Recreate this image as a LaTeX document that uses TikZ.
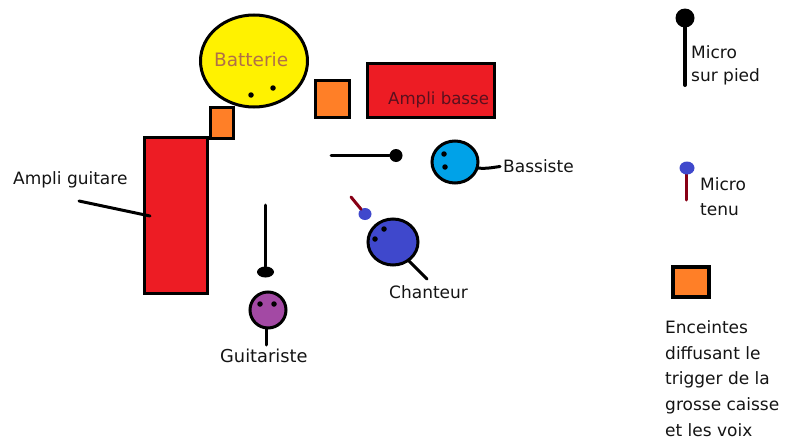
\documentclass[tikz,border=0pt]{standalone}
\usepackage{fontspec}
\setmainfont{DejaVu Sans}
\usetikzlibrary{shapes.geometric}
\definecolor{pred}{HTML}{ED1C24}
\definecolor{pyellow}{HTML}{FFF200}
\definecolor{porange}{HTML}{FF7F27}
\definecolor{ppurple}{HTML}{A349A4}
\definecolor{pcyan}{HTML}{00A2E8}
\definecolor{pindigo}{HTML}{3F48CC}
\definecolor{pdark}{HTML}{880015}
\definecolor{ptext}{HTML}{141414}
\tikzset{
  x=1pt,y=-1pt,
  boxed/.style={draw=black,line width=3pt,rectangle,inner sep=0pt,outer sep=0pt,anchor=north west},
  ampbox/.style={boxed,fill=pred},
  spk/.style={boxed,fill=porange},
  head/.style={draw=black,line width=3pt,ellipse,inner sep=0pt,outer sep=0pt},
  eye/.style={circle,fill=black,inner sep=0pt,minimum size=5.5pt},
  micball/.style={fill=black,ellipse,inner sep=0pt,outer sep=0pt},
  heldball/.style={fill=pindigo,ellipse,inner sep=0pt,outer sep=0pt},
  wire/.style={line width=3pt,line cap=round,black},
  stand/.style={line width=3pt,line cap=round,black},
  heldstem/.style={line width=3pt,line cap=round,pdark},
  lab/.style={font=\fontsize{17}{25.6}\selectfont,text=ptext,inner sep=0pt,anchor=west,align=left},
}
\begin{document}
\begin{tikzpicture}
\useasboundingbox (0,0) rectangle (795,439);
% drums
\node[head,fill=pyellow,minimum width=107pt,minimum height=92pt] (drums) at (254,61) {};
\node[lab,font=\fontsize{18.5}{26}\selectfont,text={rgb,255:red,176;green,112;blue,72}] (drumslabel) at (214,60) {Batterie};
\node[eye] (de1) at (251,95) {};
\node[eye] (de2) at (273,88) {};
% speakers
\node[spk,minimum width=23pt,minimum height=31pt] (spka) at (210,107) {};
\node[spk,minimum width=34pt,minimum height=37pt] (spkb) at (315,80) {};
% bass amp
\node[ampbox,minimum width=127pt,minimum height=54pt] (bassamp) at (367,63) {};
\node[lab,font=\fontsize{16.6}{26}\selectfont,text={rgb,255:red,90;green,16;blue,30}] (bassamplabel) at (388,100) {Ampli basse};
% guitar amp
\node[ampbox,minimum width=63pt,minimum height=156pt] (gtramp) at (144,137) {};
\node[lab] (gtramplabel) at (13,180) {Ampli guitare};
\coordinate (gtrtail) at (79,201);
\coordinate (gtrtip) at (150,216);
\draw[wire] (gtrtail) -- (gtrtip);
% guitarist
\node[micball,minimum width=17pt,minimum height=11pt] (gmic) at (265.5,272) {};
\coordinate (gstandend) at (265.5,205);
\draw[stand] (gstandend) -- (gmic);
\node[head,fill=ppurple,minimum width=36pt,minimum height=36pt] (ghead) at (268,310) {};
\node[eye] (ge1) at (260,304) {};
\node[eye] (ge2) at (274,304) {};
\node[lab,font=\fontsize{17.8}{26}\selectfont] (glabel) at (220,356) {Guitariste};
\coordinate (gneck) at (266,345);
\draw[wire] (ghead.south) ++(-2,0) -- (gneck);
% bass mic + bassist
\node[micball,minimum width=13pt,minimum height=13pt] (bmic) at (396,155.5) {};
\coordinate (bstandend) at (331,155.5);
\draw[stand] (bstandend) -- (bmic);
\node[head,fill=pcyan,minimum width=46pt,minimum height=42pt] (bhead) at (455,162) {};
\node[eye] (be1) at (444,154) {};
\node[eye] (be2) at (445,167) {};
\node[lab] (blabel) at (503,166) {Bassiste};
\draw[wire,shorten >=3pt] (bhead.-15) .. controls (484,169) and (490,168) .. (blabel.west);
% singer
\node[heldball,minimum width=13pt,minimum height=12pt] (smic) at (365,214) {};
\coordinate (sstem) at (351,197);
\draw[heldstem] (sstem) -- (smic);
\node[head,fill=pindigo,minimum width=50pt,minimum height=46pt] (shead) at (393,242) {};
\node[eye] (se1) at (384,229) {};
\node[eye] (se2) at (375,239) {};
\node[lab] (slabel) at (389,292) {Chanteur};
\coordinate (sneck) at (427,279);
\draw[wire] (shead.-50) -- (sneck);
% legend: stand mic
\node[micball,minimum width=19pt,minimum height=19pt] (lmic) at (685,18) {};
\coordinate (lstandend) at (685,85);
\draw[line width=4pt,line cap=round] (lmic) -- (lstandend);
\node[lab] (lmiclabel) at (691,52) {Micro};
\node[lab] (lmiclabelb) at (691,77) {sur pied};
% legend: held mic
\coordinate (lheldend) at (686,200);
\draw[heldstem] (686,170) -- (lheldend);
\node[heldball,minimum width=15pt,minimum height=13pt] (lheld) at (687,168) {};
\node[lab] (lheldlabel) at (700,184) {Micro};
\node[lab] (lheldlabelb) at (700,210) {tenu};
% legend: speaker
\node[spk,line width=4pt,minimum width=36pt,minimum height=30pt] (lspk) at (673,267) {};
\node[lab,anchor=north west] (lspklabel) at (665,320.5) {Enceintes\\diffusant le\\trigger de la\\grosse caisse\\et les voix};
\end{tikzpicture}
\end{document}
